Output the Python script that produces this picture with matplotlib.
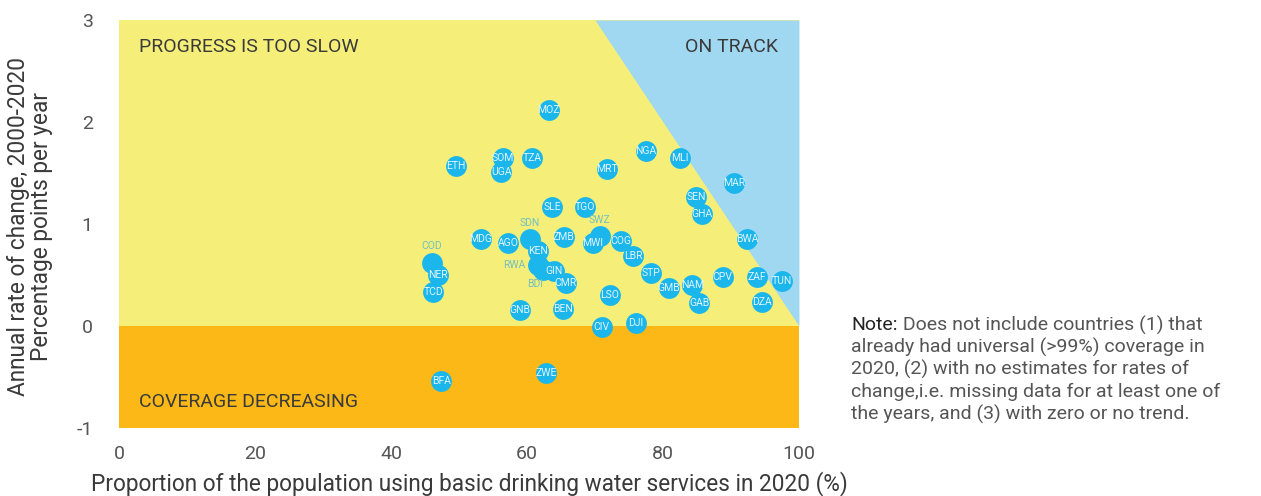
import numpy as np
import matplotlib.pyplot as plt

# country codes, coverage 2020 (%), annual rate of change (pp/year)
codes = ["MOZ", "ETH", "SOM", "UGA", "TZA", "MRT", "NGA", "MLI", "MAR", "SEN",
         "GHA", "SLE", "TGO", "BWA", "SDN", "KEN", "RWA", "BDI", "COD", "NER",
         "TCD", "MDG", "AGO", "ZMB", "GIN", "CMR", "GNB", "BEN", "LSO", "CIV",
         "DJI", "SWZ", "MWI", "COG", "LBR", "STP", "GMB", "NAM", "GAB", "CPV",
         "ZAF", "TUN", "DZA", "BFA", "ZWE"]
coverage = [63.2, 49.6, 56.5, 56.2, 60.7, 71.8, 77.5, 82.5, 90.4, 84.9,
            85.7, 63.7, 68.5, 92.4, 60.4, 61.6, 61.6, 62.4, 46.0, 46.9,
            46.2, 53.2, 57.2, 65.4, 64.0, 65.7, 59.0, 65.3, 72.2, 71.0,
            76.0, 70.7, 69.7, 73.8, 75.6, 78.2, 80.9, 84.3, 85.3, 88.8,
            93.8, 97.5, 94.6, 47.4, 62.8]
rate = [2.12, 1.57, 1.65, 1.51, 1.65, 1.54, 1.72, 1.65, 1.40, 1.26,
        1.10, 1.17, 1.17, 0.85, 0.85, 0.74, 0.60, 0.55, 0.62, 0.50,
        0.33, 0.85, 0.81, 0.87, 0.54, 0.42, 0.16, 0.17, 0.30, -0.01,
        0.03, 0.88, 0.81, 0.83, 0.69, 0.52, 0.37, 0.40, 0.23, 0.48,
        0.48, 0.44, 0.24, -0.54, -0.46]
# labels drawn outside the marker: code -> (dx, dy) offset in points
outside = {"COD": (0, 12), "SDN": (0, 12), "SWZ": (0, 12),
           "RWA": (-17, 0), "BDI": (-6, -10)}

note_lines = ["already had universal (>99%) coverage in",
              "2020, (2) with no estimates for rates of",
              "change,i.e. missing data for at least one of",
              "the years, and (3) with zero or no trend."]

yellow = "#f5ef7a"
blue = "#a0d8f2"
orange = "#fbb817"
dot = "#1ab6ec"
grey = "#555555"
dark = "#3a3a3a"

plt.rcParams["font.family"] = ["Roboto", "DejaVu Sans"]
plt.rcParams["axes.unicode_minus"] = False

fig = plt.figure(figsize=(12.61, 4.96), dpi=100)
ax = fig.add_axes([0.0944, 0.137, 0.5392, 0.8227])
ax.set_xlim(0, 100)
ax.set_ylim(-1, 3)

# background zones: required rate to reach universal coverage by 2030
ax.fill_between([0, 100], 0, 3, color=yellow, lw=0, zorder=0)
ax.fill_between([0, 100], -1, 0, color=orange, lw=0, zorder=0)
xs = np.array([70, 100])
ax.fill_between(xs, (100 - xs) / 10, 3, color=blue, lw=0, zorder=0)

ax.scatter(coverage, rate, s=225, color=dot, lw=0, zorder=2)
for c, x, y in zip(codes, coverage, rate):
    if c in outside:
        dx, dy = outside[c]
        ax.annotate(c, (x, y), xytext=(dx, dy), textcoords="offset points",
                    ha="center", va="center", fontsize=7.5, color="#72bfc0", zorder=3)
    else:
        ax.text(x, y, c, ha="center", va="center", fontsize=7.5,
                color="#e2f4fb", zorder=3)

ax.text(2.9, 2.735, "PROGRESS IS TOO SLOW", fontsize=14, color=dark, va="center")
ax.text(96.9, 2.735, "ON TRACK", fontsize=14, color=dark, va="center", ha="right")
ax.text(2.9, -0.745, "COVERAGE DECREASING", fontsize=14, color=dark, va="center")

for s in ax.spines.values():
    s.set_visible(False)
ax.set_xticks([0, 20, 40, 60, 80, 100])
ax.set_yticks([-1, 0, 1, 2, 3])
ax.tick_params(length=0, labelsize=14, colors=grey)
ax.tick_params(axis="x", pad=12)
ax.tick_params(axis="y", pad=19)
ax.set_xlabel("Proportion of the population using basic drinking water services in 2020 (%)",
              fontsize=16.3, color=dark, va="center")
ax.xaxis.set_label_coords(0.515, -0.135)
ax.set_ylabel("Annual rate of change, 2000-2020\nPercentage points per year",
              fontsize=16.3, color=dark, va="center", linespacing=1.0)
ax.yaxis.set_label_coords(-0.131, 0.495)

note = fig.text(0.6749, 0.3448, "Note:", fontsize=14, color="#222222", va="center")
ax.annotate(" Does not include countries (1) that", xy=(1, 0.5), xycoords=note,
            va="center", fontsize=14, color=grey)
for i, line in enumerate(note_lines):
    fig.text(0.6749, 0.3448 - (i + 1) * 0.045, line, fontsize=14, color=grey, va="center")

fig.savefig("out.png", dpi=100)
